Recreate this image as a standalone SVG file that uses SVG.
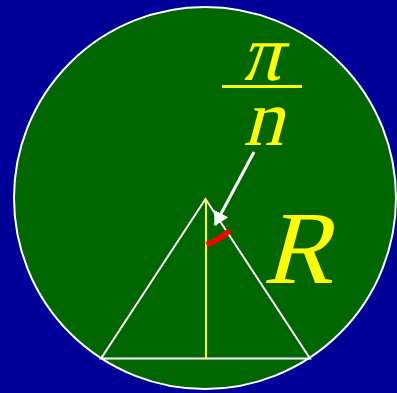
<svg xmlns="http://www.w3.org/2000/svg" width="397" height="393" viewBox="0 0 397 393">
<defs>
<style>
.math{fill:#FFFF00;font-family:'Liberation Serif','Times New Roman',Times,serif;font-style:normal}
.wl{stroke:#FFFFFF;stroke-width:2;fill:none}
</style>
<marker id="ah" markerUnits="userSpaceOnUse" markerWidth="18" markerHeight="18" refX="13" refY="8" orient="auto">
<path d="M0,0 L14,8 L0,16 Z" fill="#FFFFFF"/>
</marker>
</defs>
<rect x="0" y="0" width="397" height="393" fill="#000099"/>
<g id="circle">
<circle cx="205" cy="198" r="191" fill="#006600" stroke="#FFFFFF" stroke-width="2"/>
</g>
<g id="triangle">
<path class="wl" d="M101,358.5 L205.5,199 L310,358.5 Z"/>
<line x1="206" y1="199" x2="206" y2="358" stroke="#FFFF00" stroke-width="2"/>
<path d="M206.5,244.5 Q219,240.5 229.5,230.5" stroke="#FF0000" stroke-width="5.5" fill="none"/>
</g>
<g id="connectors">
<line x1="254" y1="152" x2="215" y2="225" stroke="#FFFFFF" stroke-width="3" marker-end="url(#ah)"/>
</g>
<g id="fraction">
<text class="math" transform="translate(261,80) skewX(-15)" x="0" y="0" font-size="80" text-anchor="middle">π</text>
<rect x="222" y="85" width="80" height="3" fill="#FFFF00"/>
<text class="math" transform="translate(263,145) skewX(-15)" x="0" y="0" font-size="80" text-anchor="middle">n</text>
</g>
<g id="label-R">
<text class="math" transform="translate(297,283) skewX(-15)" x="0" y="0" font-size="104" text-anchor="middle">R</text>
</g>
</svg>
